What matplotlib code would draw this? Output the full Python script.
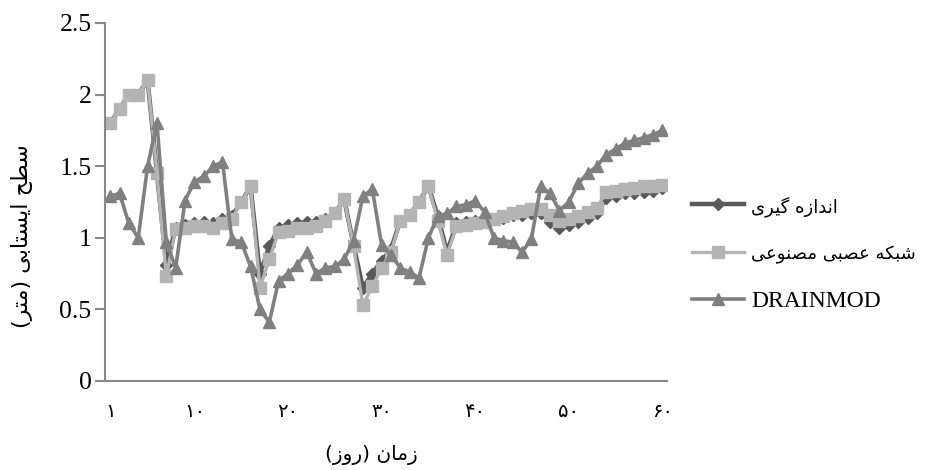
import matplotlib
matplotlib.use("Agg")
import matplotlib.pyplot as plt

days = list(range(1, 61))

measured = [1.80, 1.90, 2.00, 2.00, 2.10, 1.45, 0.81, 1.07, 1.09, 1.10,
            1.11, 1.10, 1.13, 1.15, 1.25, 1.36, 0.75, 0.94, 1.07, 1.09,
            1.10, 1.11, 1.11, 1.13, 1.17, 1.27, 0.95, 0.65, 0.75, 0.84,
            0.92, 1.12, 1.16, 1.25, 1.36, 1.15, 0.90, 1.10, 1.11, 1.12,
            1.12, 1.13, 1.14, 1.16, 1.16, 1.17, 1.17, 1.11, 1.07, 1.09,
            1.11, 1.14, 1.17, 1.28, 1.29, 1.31, 1.31, 1.32, 1.33, 1.35]

ann = [1.80, 1.90, 2.00, 2.00, 2.10, 1.45, 0.73, 1.06, 1.07, 1.08,
       1.08, 1.07, 1.10, 1.13, 1.25, 1.36, 0.65, 0.85, 1.04, 1.05,
       1.07, 1.07, 1.08, 1.12, 1.17, 1.27, 0.94, 0.53, 0.66, 0.79,
       0.90, 1.12, 1.16, 1.25, 1.36, 1.12, 0.88, 1.08, 1.09, 1.10,
       1.11, 1.13, 1.15, 1.17, 1.19, 1.20, 1.20, 1.16, 1.12, 1.13,
       1.15, 1.18, 1.21, 1.32, 1.33, 1.34, 1.35, 1.36, 1.36, 1.37]

drainmod = [1.29, 1.31, 1.10, 1.00, 1.50, 1.80, 0.97, 0.79, 1.26, 1.39,
            1.43, 1.50, 1.53, 0.99, 0.97, 0.80, 0.50, 0.41, 0.70, 0.75,
            0.81, 0.90, 0.75, 0.79, 0.80, 0.85, 0.98, 1.29, 1.34, 0.95,
            0.88, 0.79, 0.76, 0.72, 1.00, 1.15, 1.17, 1.22, 1.23, 1.26,
            1.18, 1.00, 0.98, 0.97, 0.90, 0.99, 1.36, 1.31, 1.19, 1.25,
            1.38, 1.45, 1.50, 1.58, 1.62, 1.66, 1.68, 1.70, 1.72, 1.75]

x_ticks = [1, 10, 20, 30, 40, 50, 60]
x_tick_labels = ["۱", "۱۰", "۲۰", "۳۰", "۴۰", "۵۰", "۶۰"]
y_ticks = [0, 0.5, 1, 1.5, 2, 2.5]
y_tick_labels = ["0", "0.5", "1", "1.5", "2", "2.5"]

label_measured = "اندازه گیری"
label_ann = "شبکه عصبی مصنوعی"
label_drainmod = "DRAINMOD"
x_title = "زمان (روز)"
y_title = "سطح ایستابی (متر)"

# matplotlib has no arabic shaping, so map letters to presentation forms
# (isolated, final, initial, medial) and reverse to visual order
FORMS = {
    "ا": ("\uFE8D", "\uFE8E", None, None),
    "د": ("\uFEA9", "\uFEAA", None, None),
    "ر": ("\uFEAD", "\uFEAE", None, None),
    "ز": ("\uFEAF", "\uFEB0", None, None),
    "و": ("\uFEED", "\uFEEE", None, None),
    "ب": ("\uFE8F", "\uFE90", "\uFE91", "\uFE92"),
    "ت": ("\uFE95", "\uFE96", "\uFE97", "\uFE98"),
    "ح": ("\uFEA1", "\uFEA2", "\uFEA3", "\uFEA4"),
    "س": ("\uFEB1", "\uFEB2", "\uFEB3", "\uFEB4"),
    "ش": ("\uFEB5", "\uFEB6", "\uFEB7", "\uFEB8"),
    "ص": ("\uFEB9", "\uFEBA", "\uFEBB", "\uFEBC"),
    "ط": ("\uFEC1", "\uFEC2", "\uFEC3", "\uFEC4"),
    "ع": ("\uFEC9", "\uFECA", "\uFECB", "\uFECC"),
    "م": ("\uFEE1", "\uFEE2", "\uFEE3", "\uFEE4"),
    "ن": ("\uFEE5", "\uFEE6", "\uFEE7", "\uFEE8"),
    "ه": ("\uFEE9", "\uFEEA", "\uFEEB", "\uFEEC"),
    "ی": ("\uFBFC", "\uFBFD", "\uFBFE", "\uFBFF"),
    "ک": ("\uFB8E", "\uFB8F", "\uFB90", "\uFB91"),
    "گ": ("\uFB92", "\uFB93", "\uFB94", "\uFB95"),
}


def shape(text):
    out = []
    for i, c in enumerate(text):
        if c not in FORMS:
            out.append(c)
            continue
        iso, fin, ini, med = FORMS[c]
        prev = text[i - 1] if i > 0 else ""
        nxt = text[i + 1] if i + 1 < len(text) else ""
        join_prev = prev in FORMS and FORMS[prev][2] is not None
        join_next = nxt in FORMS and ini is not None
        if join_prev and join_next:
            out.append(med)
        elif join_prev:
            out.append(fin)
        elif join_next:
            out.append(ini)
        else:
            out.append(iso)
    visual = "".join(reversed(out))
    return visual.translate(str.maketrans("()", ")("))


AXIS_GREY = "#898989"
SERIF = "Liberation Serif"
ARABIC = ["DejaVu Sans"]

fig = plt.figure(figsize=(9.27, 4.70), dpi=100)
ax = fig.add_axes([0.1138, 0.1894, 0.6058, 0.7617])

ax.plot(days, measured, color="#595959", lw=3.2, marker="D", ms=6,
        label=shape(label_measured))
ax.plot(days, ann, color="#b4b4b4", lw=2.4, marker="s", ms=8,
        label=shape(label_ann))
ax.plot(days, drainmod, color="#808080", lw=2.6, marker="^", ms=9,
        label=label_drainmod)

ax.set_xlim(0.5, 60.5)
ax.set_ylim(0, 2.5)

for side in ("top", "right"):
    ax.spines[side].set_visible(False)
for side in ("left", "bottom"):
    ax.spines[side].set_color(AXIS_GREY)
    ax.spines[side].set_linewidth(1.5)

ax.set_yticks(y_ticks)
ax.set_yticklabels(y_tick_labels, fontfamily=SERIF, fontsize=18.5)
ax.tick_params(axis="y", direction="out", length=7, width=1.5,
               color=AXIS_GREY, pad=3)
ax.set_xticks(x_ticks)
ax.set_xticklabels(x_tick_labels, family=ARABIC, fontsize=14)
ax.tick_params(axis="x", length=0, pad=15)

fig.text(0.401, 1 - 455 / 470, shape(x_title), family=ARABIC, fontsize=14.5,
         ha="center", va="center")
fig.text(22 / 927, 1 - 236 / 470, shape(y_title), family=ARABIC, fontsize=16,
         ha="center", va="center", rotation=90)

leg = ax.legend(loc="center left", bbox_to_anchor=(692 / 927, 1 - 254 / 470),
                bbox_transform=fig.transFigure, frameon=False,
                borderaxespad=0, borderpad=0, handlelength=2.2,
                handletextpad=0.3, labelspacing=1.1,
                prop={"family": SERIF, "size": 17})
for t in leg.get_texts()[:2]:
    t.set_fontfamily(ARABIC)
    t.set_fontsize(13)

fig.savefig("out.png", dpi=100)
